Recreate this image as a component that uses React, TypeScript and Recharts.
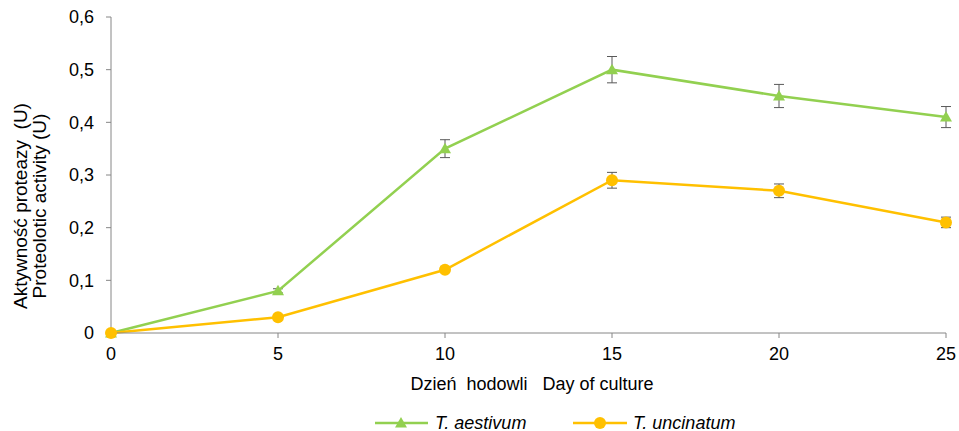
import React from 'react';
import { LineChart, Line, XAxis, YAxis, ErrorBar } from 'recharts';

const days = [0, 5, 10, 15, 20, 25];
const aestivum = [0, 0.08, 0.35, 0.5, 0.45, 0.41];
const aestivumErr = [0, 0.004, 0.017, 0.025, 0.022, 0.02];
const uncinatum = [0, 0.03, 0.12, 0.29, 0.27, 0.21];
const uncinatumErr = [0, 0.003, 0.005, 0.015, 0.013, 0.01];
const xTicks = [0, 5, 10, 15, 20, 25];
const yTicks = [0, 0.1, 0.2, 0.3, 0.4, 0.5, 0.6];
const seriesNames = ['T. aestivum', 'T. uncinatum'];
const xLabel = 'Dzień  hodowli   Day of culture';
const yLabel1 = 'Aktywność proteazy  (U)';
const yLabel2 = 'Proteolotic activity (U)';

const data = days.map((d, i) => ({
  day: d,
  a: aestivum[i],
  aErr: aestivumErr[i],
  u: uncinatum[i],
  uErr: uncinatumErr[i],
}));

const GREEN = '#92D050';
const ORANGE = '#FFC000';
const AXIS = '#868686';
const FONT = '"Liberation Sans", Arial, sans-serif';
const FS = 18;

const Triangle = (props: any) => {
  const { cx, cy } = props;
  if (cx == null || cy == null) return null;
  return <polygon points={`${cx},${cy - 6} ${cx + 6},${cy + 4.5} ${cx - 6},${cy + 4.5}`} fill={GREEN} />;
};

const Circle = (props: any) => {
  const { cx, cy } = props;
  if (cx == null || cy == null) return null;
  return <circle cx={cx} cy={cy} r={6} fill={ORANGE} />;
};

const fmt = (v: number) => (v === 0 ? '0' : v.toFixed(1).replace('.', ','));

export default function App() {
  return (
    <div style={{ position: 'absolute', left: 0, top: 0, width: 959, height: 431, background: '#fff', fontFamily: FONT }}>
      <LineChart width={959} height={431} data={data} margin={{ top: 17, right: 13, left: 0, bottom: 0 }}>
        <XAxis
          dataKey="day"
          type="number"
          domain={[0, 25]}
          ticks={xTicks}
          height={98}
          stroke={AXIS}
          tickLine={{ stroke: AXIS }}
          tickSize={5}
          tickMargin={9}
          tick={{ fill: '#000', fontSize: FS, fontFamily: FONT }}
          label={{
            content: () => (
              <text x={532} y={390} textAnchor="middle" fontSize={FS} fontFamily={FONT} fill="#000" style={{ whiteSpace: 'pre' }}>
                {xLabel}
              </text>
            ),
          }}
        />
        <YAxis
          type="number"
          domain={[0, 0.6]}
          ticks={yTicks}
          width={111}
          stroke={AXIS}
          tickLine={{ stroke: AXIS }}
          tickSize={5}
          tickMargin={12}
          tickFormatter={fmt}
          tick={{ fill: '#000', fontSize: FS, fontFamily: FONT }}
          label={{
            content: () => (
              <g>
                <text transform="translate(27,206) rotate(-90)" textAnchor="middle" fontSize={19} fontFamily={FONT} fill="#000" style={{ whiteSpace: 'pre' }}>
                  {yLabel1}
                </text>
                <text transform="translate(46,206) rotate(-90)" textAnchor="middle" fontSize={19} fontFamily={FONT} fill="#000" style={{ whiteSpace: 'pre' }}>
                  {yLabel2}
                </text>
              </g>
            ),
          }}
        />
        <Line dataKey="a" stroke={GREEN} strokeWidth={2.5} dot={<Triangle />} activeDot={false} isAnimationActive={false}>
          <ErrorBar dataKey="aErr" width={5} stroke="#595959" strokeWidth={1} direction="y" />
        </Line>
        <Line dataKey="u" stroke={ORANGE} strokeWidth={2.5} dot={<Circle />} activeDot={false} isAnimationActive={false}>
          <ErrorBar dataKey="uErr" width={5} stroke="#595959" strokeWidth={1} direction="y" />
        </Line>
      </LineChart>
      <svg width={959} height={23} style={{ position: 'absolute', left: 0, top: 408 }}>
        <line x1={375} y1={15} x2={428} y2={15} stroke={GREEN} strokeWidth={2.5} />
        <polygon points="401,9 407,19.5 395,19.5" fill={GREEN} />
        <text x={435} y={21} fontSize={FS} fontStyle="italic" fontFamily={FONT} fill="#000">{seriesNames[0]}</text>
        <line x1={573} y1={15} x2={627} y2={15} stroke={ORANGE} strokeWidth={2.5} />
        <circle cx={600} cy={15} r={6} fill={ORANGE} />
        <text x={633} y={21} fontSize={FS} fontStyle="italic" fontFamily={FONT} fill="#000">{seriesNames[1]}</text>
      </svg>
    </div>
  );
}
